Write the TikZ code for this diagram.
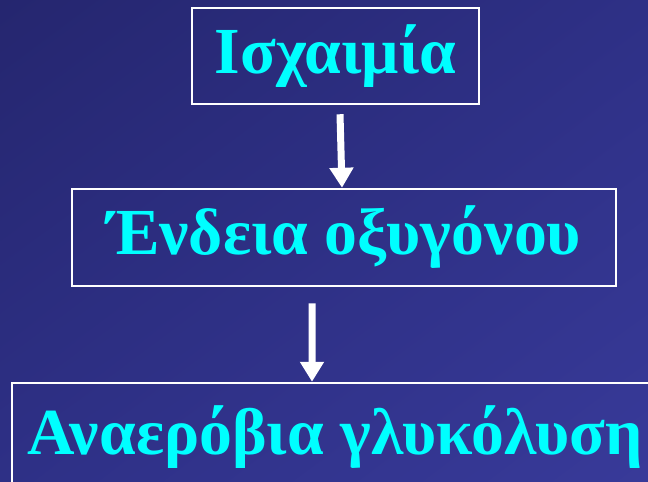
\documentclass[tikz,border=0pt]{standalone}
\usepackage{fontspec}
\setmainfont{Liberation Serif}
\usetikzlibrary{arrows.meta,shadings}

\definecolor{bgdark}{HTML}{25266F}
\definecolor{bgmid}{HTML}{2E3086}
\definecolor{bglight}{HTML}{383A99}
\definecolor{steptext}{HTML}{00FFFF}

\begin{document}
\begin{tikzpicture}[x=1bp,y=-1bp,
  box/.style={draw=white, line width=2.5bp, inner sep=0pt, text=steptext,
    font=\fontsize{66}{70}\selectfont\bfseries},
  arr/.style={draw=white, line width=7bp, -{Triangle[width=23bp,length=20bp]}}]
\useasboundingbox (0,0) rectangle (648,482);
\clip (0,0) rectangle (648,482);
\shade[upper left=bgdark, lower right=bglight, upper right=bgmid, lower left=bgmid]
  (0,0) rectangle (648,482);

% the three steps
\node[box, minimum width=287bp, minimum height=96bp] (isch) at (335.5,56) {Ισχαιμία};
\node[box, minimum width=544bp, minimum height=97bp] (endeia) at (344,237.5) {Ένδεια οξυγόνου};
\node[box, minimum width=646bp, minimum height=108bp] (anaer) at (335,437) {Αναερόβια γλυκόλυση};

\draw[arr] ([xshift=4.5bp,yshift=-9bp]isch.south) -- ([xshift=-2bp]endeia.north);
\draw[arr] ([xshift=-32bp,yshift=-16bp]endeia.south) -- ([xshift=-23bp]anaer.north);
\end{tikzpicture}
\end{document}
